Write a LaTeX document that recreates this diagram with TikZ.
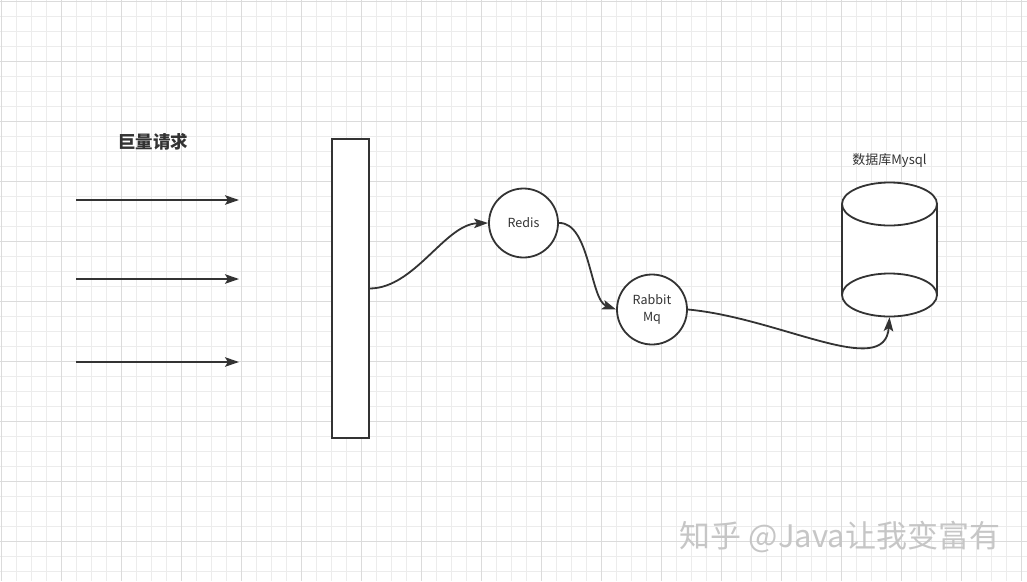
\documentclass[tikz,border=0pt]{standalone}
\usepackage{fontspec}
\usepackage{tikz}
\usetikzlibrary{arrows.meta,positioning}
\usepackage{xcolor}
\newfontfamily\cjk{Noto Sans CJK SC}
\definecolor{ink}{HTML}{333333}

\begin{document}
\begin{tikzpicture}[x=1pt, y=-1pt, >={Stealth[length=14pt,width=9.5pt,inset=3pt]},
  line/.style={draw=ink, line width=1.8pt},
  svc/.style={circle, draw=ink, line width=1.8pt, fill=white, minimum size=69pt,
    inner sep=0pt, align=center, text=ink, font=\cjk\fontsize{12.5}{17}\selectfont},
  gridminor/.style={draw=gray!15, line width=0.8pt},
  gridmajor/.style={draw=gray!28, line width=0.8pt}]
\useasboundingbox (0,0) rectangle (1027,581);
\fill[white] (0,0) rectangle (1027,581);
% background grid
\foreach \g in {1,16,...,1027} \draw[gridminor] (\g,0) -- (\g,581);
\foreach \g in {1,16,...,581} \draw[gridminor] (0,\g) -- (1027,\g);
\foreach \g in {1,61,...,1027} \draw[gridmajor] (\g,0) -- (\g,581);
\foreach \g in {1,61,...,581} \draw[gridmajor] (0,\g) -- (1027,\g);

\node[font=\cjk\bfseries\fontsize{17.5}{20}\selectfont, text=ink] (title) at (153,142) {巨量请求};
\foreach \ry [count=\i] in {200,279,362} {
  \coordinate (src\i) at (76,\ry);
  \coordinate (dst\i) at (239,\ry);
  \draw[line,->] (src\i) -- (dst\i);
}
\node[draw=ink, line width=1.8pt, fill=white, minimum width=37pt, minimum height=299pt,
  inner sep=0pt] (gate) at (350.5,288.5) {};
\node[svc] (redis) at (523.5,223) {Redis};
\node[svc, minimum size=70pt] (mq) at (652,309.5) {Rabbit\\Mq};

% database cylinder
\node[minimum width=95pt, minimum height=135pt, inner sep=0pt] (db) at (889.5,249.5) {};
\fill[white] (842,204) rectangle (937,295);
\draw[line] (842,204) -- (842,295) (937,204) -- (937,295);
\draw[line, fill=white] (889.5,295) ellipse [x radius=47.5pt, y radius=21.5pt];
\draw[line, fill=white] (889.5,204) ellipse [x radius=47.5pt, y radius=21.5pt];
\node[above=11pt of db, text=ink, font=\cjk\fontsize{13}{15}\selectfont] (dblabel) {数据库Mysql};

\draw[line,->] (gate.east) .. controls (415,288) and (445,224) .. (redis.west);
\draw[line,->] (redis.east) .. controls (590,222) and (590,300) .. (mq.west);
\draw[line,->] (mq.east) .. controls (780,318) and (885,380) .. (db.south);

\node[font=\cjk\fontsize{31}{35}\selectfont, text=gray!45] (mark) at (840,537) {知乎 @Java让我变富有};
\end{tikzpicture}
\end{document}
